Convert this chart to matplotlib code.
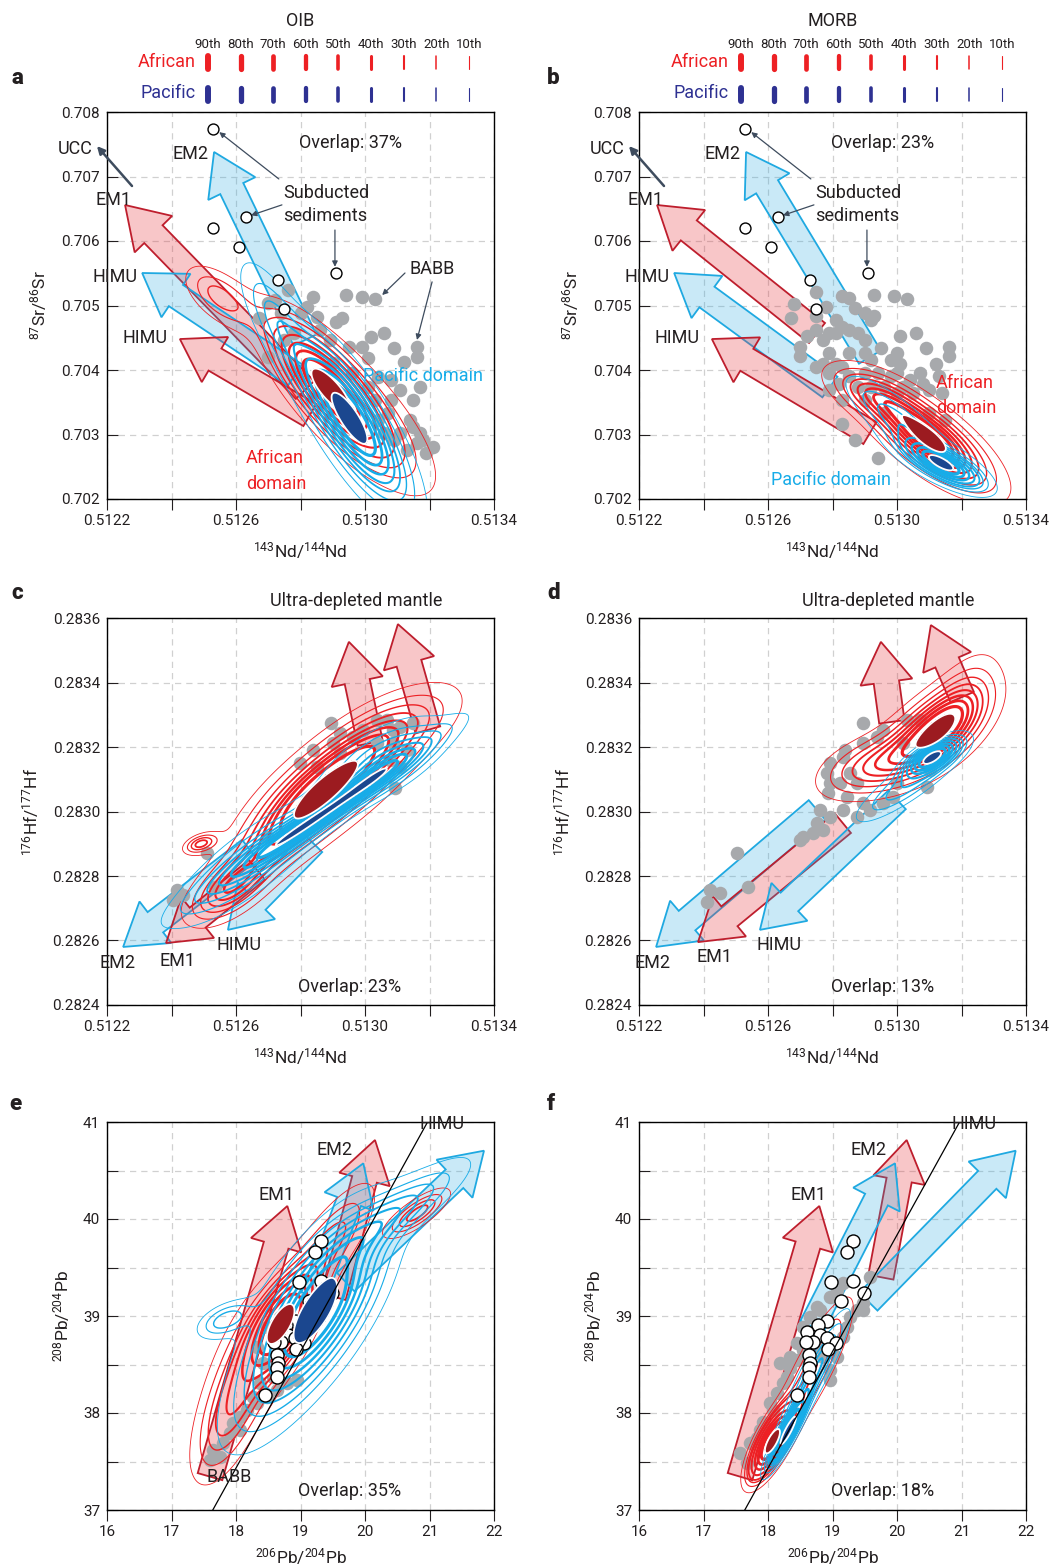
import numpy as np
import matplotlib
matplotlib.use("Agg")
import matplotlib.pyplot as plt
from matplotlib import patches
from matplotlib.lines import Line2D
from matplotlib.colors import to_rgba
from matplotlib.ticker import FormatStrFormatter

plt.rcParams["font.family"] = ["Roboto", "DejaVu Sans"]
plt.rcParams["mathtext.fontset"] = "custom"
plt.rcParams["mathtext.rm"] = "Roboto"
plt.rcParams["mathtext.it"] = "Roboto:italic"
plt.rcParams["mathtext.bf"] = "Roboto:bold"

# ---------------- data ----------------
PERCENTILES = ["90th", "80th", "70th", "60th", "50th", "40th", "30th", "20th", "10th"]
MASS = [0.1, 0.2, 0.3, 0.4, 0.5, 0.6, 0.7, 0.8, 0.9]

# subducted sediments (panels a, b)
SED_ND = [0.51253, 0.51263, 0.51253, 0.51261, 0.51273, 0.51275, 0.51291]
SED_SR = [0.70773, 0.70637, 0.70620, 0.70590, 0.70540, 0.70495, 0.70550]

# grey samples, OIB Sr-Nd (a)
OIB_ND = [0.51294, 0.51299, 0.51303, 0.51284, 0.51276, 0.51270, 0.51267, 0.51293, 0.51291, 0.51306,
          0.51302, 0.51299, 0.51309, 0.51316, 0.51316, 0.51312, 0.51301, 0.51295, 0.51270, 0.51275,
          0.51278, 0.51286, 0.51317, 0.51315, 0.51311, 0.51308, 0.51314, 0.51317, 0.51321, 0.51319,
          0.51316, 0.51313, 0.51309, 0.51304, 0.51306, 0.51311, 0.51282, 0.51280, 0.51285, 0.51272,
          0.51274, 0.51289, 0.51290, 0.51296, 0.51304, 0.51308, 0.51301, 0.51303, 0.51307, 0.51315, 0.51318]
OIB_SR = [0.70516, 0.70513, 0.70510, 0.70513, 0.70524, 0.70504, 0.70481, 0.70481, 0.70474, 0.70457,
          0.70451, 0.70436, 0.70434, 0.70436, 0.70420, 0.70412, 0.70419, 0.70436, 0.70420, 0.70447,
          0.70457, 0.70462, 0.70374, 0.70354, 0.70369, 0.70354, 0.70323, 0.70302, 0.70281, 0.70271,
          0.70287, 0.70276, 0.70292, 0.70323, 0.70302, 0.70302, 0.70498, 0.70488, 0.70482, 0.70509,
          0.70488, 0.70447, 0.70411, 0.70395, 0.70389, 0.70385, 0.70374, 0.70354, 0.70333, 0.70312, 0.70292]

# grey samples, MORB Sr-Nd (b)
MORB_ND = [0.51268, 0.51267, 0.51275, 0.51278, 0.51283, 0.51285, 0.51287, 0.51293, 0.51299, 0.51303,
           0.51292, 0.51293, 0.51272, 0.51270, 0.51275, 0.51277, 0.51279, 0.51281, 0.51283, 0.51285,
           0.51288, 0.51290, 0.51279, 0.51281, 0.51275, 0.51279, 0.51283, 0.51285, 0.51290, 0.51292,
           0.51295, 0.51298, 0.51300, 0.51301, 0.51301, 0.51306, 0.51309, 0.51312, 0.51316, 0.51316,
           0.51307, 0.51304, 0.51302, 0.51298, 0.51294, 0.51290, 0.51285, 0.51282, 0.51279, 0.51283,
           0.51288, 0.51292, 0.51296, 0.51300, 0.51305, 0.51310, 0.51308, 0.51313, 0.51314, 0.51315,
           0.51310, 0.51283, 0.51287, 0.51294, 0.51290, 0.51296, 0.51275, 0.51270, 0.51277, 0.51281,
           0.51290, 0.51300]
MORB_SR = [0.70503, 0.70480, 0.70521, 0.70498, 0.70514, 0.70511, 0.70496, 0.70516, 0.70514, 0.70510,
           0.70478, 0.70483, 0.70452, 0.70421, 0.70462, 0.70447, 0.70457, 0.70457, 0.70467, 0.70462,
           0.70457, 0.70447, 0.70426, 0.70410, 0.70405, 0.70395, 0.70405, 0.70426, 0.70426, 0.70416,
           0.70434, 0.70416, 0.70426, 0.70410, 0.70452, 0.70457, 0.70434, 0.70410, 0.70436, 0.70421,
           0.70395, 0.70385, 0.70374, 0.70390, 0.70395, 0.70395, 0.70390, 0.70379, 0.70369, 0.70354,
           0.70374, 0.70374, 0.70374, 0.70364, 0.70364, 0.70369, 0.70379, 0.70390, 0.70364, 0.70323,
           0.70333, 0.70317, 0.70292, 0.70263, 0.70354, 0.70333, 0.70483, 0.70436, 0.70410, 0.70478,
           0.70488, 0.70395]

# grey samples, Hf-Nd (c, d)
OIB_HF_ND = [0.512895, 0.513036, 0.513067, 0.512922, 0.512995, 0.513088, 0.513109, 0.51315, 0.51284,
             0.512798, 0.512902, 0.512964, 0.513036, 0.513088, 0.513093, 0.513109, 0.512695, 0.512509,
             0.512416, 0.512406, 0.512437, 0.512535, 0.51285, 0.512922, 0.513078, 0.513129]
OIB_HF = [0.283273, 0.283284, 0.283284, 0.283242, 0.283253, 0.283253, 0.283263, 0.283273, 0.283191,
          0.28315, 0.283211, 0.283232, 0.283211, 0.283211, 0.283072, 0.283139, 0.282922, 0.28287,
          0.282757, 0.282726, 0.282741, 0.282767, 0.283139, 0.28318, 0.28316, 0.283191]
MORB_HF_ND = [0.512896, 0.512937, 0.512958, 0.512839, 0.512834, 0.512792, 0.512782, 0.512792, 0.512787,
              0.512823, 0.512854, 0.512875, 0.512844, 0.512896, 0.512916, 0.512875, 0.512834, 0.512792,
              0.512761, 0.512751, 0.512772, 0.512741, 0.5127, 0.51271, 0.512503, 0.51242, 0.512451,
              0.51241, 0.512539, 0.51303, 0.513071, 0.51302, 0.513092, 0.513102, 0.512989, 0.512958,
              0.512896, 0.512999]
MORB_HF = [0.283273, 0.283232, 0.283253, 0.283191, 0.28317, 0.28315, 0.283118, 0.283087, 0.283056,
           0.283087, 0.283118, 0.283087, 0.283046, 0.283025, 0.283005, 0.282984, 0.283005, 0.282984,
           0.283005, 0.282963, 0.282943, 0.282932, 0.282912, 0.282922, 0.28287, 0.282757, 0.282746,
           0.28272, 0.282767, 0.283284, 0.283284, 0.283211, 0.283077, 0.283129, 0.283046, 0.283025,
           0.283211, 0.283087]

# Pb isotopes (e, f)
BABB_206 = [19.313, 19.230, 18.982, 19.313, 19.494, 19.132, 18.910, 18.780, 18.610, 18.806,
            18.910, 18.703, 18.584, 19.054, 18.925, 18.636, 18.651, 18.636, 18.636, 18.455]
BABB_208 = [39.777, 39.663, 39.354, 39.364, 39.241, 39.158, 38.952, 38.907, 38.838, 38.804,
            38.770, 38.729, 38.735, 38.718, 38.663, 38.598, 38.519, 38.460, 38.375, 38.186]
OIB_206 = [17.597, 17.649, 17.804, 17.752, 17.907, 17.959, 18.062, 18.165, 18.320, 18.475,
           18.630, 18.786, 18.941, 18.372, 18.579, 18.424, 18.475, 18.320, 18.682, 18.269, 18.062]
OIB_208 = [37.515, 37.619, 37.687, 37.550, 37.790, 37.893, 37.962, 38.031, 38.100, 38.168,
           38.237, 38.306, 38.340, 38.306, 38.375, 38.512, 38.890, 38.684, 38.993, 38.168, 37.825]
MORB_206 = [17.669, 17.566, 17.824, 17.928, 18.083, 18.134, 18.289, 18.341, 18.444, 18.548,
            18.755, 18.858, 18.961, 18.961, 19.065, 19.168, 19.220, 19.271, 19.375, 19.478,
            19.478, 19.581, 19.168, 19.065, 18.961, 18.806, 18.548, 18.651, 18.341, 18.186,
            17.721, 17.876, 18.031, 18.238, 18.444, 18.755]
MORB_208 = [37.481, 37.584, 37.739, 37.911, 38.031, 38.203, 38.375, 38.460, 38.546, 38.649,
            38.684, 38.581, 38.443, 38.340, 38.581, 38.787, 38.890, 38.993, 39.062, 39.131,
            39.062, 39.405, 39.337, 39.268, 39.199, 39.062, 38.890, 38.993, 38.581, 38.512,
            37.687, 37.825, 38.100, 38.306, 38.718, 39.096]
HIMU_LINE_206 = [17.64, 20.97]
HIMU_LINE_208 = [37.0, 41.0]

# density components: (x, y, major sd, minor sd [axes fraction], angle deg, weight)
A_AFR = [(0.51288, 0.70374, 0.13, 0.045, -50, 0.62), (0.51255, 0.70513, 0.07, 0.035, -40, 0.08),
         (0.51300, 0.70330, 0.17, 0.060, -48, 0.30)]
A_PAC = [(0.51295, 0.70327, 0.15, 0.045, -57, 0.70), (0.51272, 0.70480, 0.11, 0.035, -62, 0.12),
         (0.51298, 0.70300, 0.18, 0.060, -62, 0.18)]
B_AFR = [(0.51310, 0.70294, 0.12, 0.045, -37, 0.72), (0.51292, 0.70364, 0.08, 0.035, -25, 0.18),
         (0.51312, 0.70280, 0.14, 0.05, -35, 0.10)]
B_PAC = [(0.51314, 0.70255, 0.06, 0.020, -28, 0.55), (0.51300, 0.70322, 0.10, 0.030, -40, 0.30),
         (0.51312, 0.70260, 0.12, 0.040, -25, 0.15)]
C_AFR = [(0.51289, 0.28308, 0.15, 0.060, 35, 0.52), (0.51257, 0.28275, 0.08, 0.040, 35, 0.10),
         (0.51309, 0.28326, 0.13, 0.055, 28, 0.18), (0.51272, 0.28290, 0.13, 0.050, 40, 0.18),
         (0.51249, 0.28290, 0.03, 0.015, 20, 0.015)]
C_PAC = [(0.51288, 0.28300, 0.20, 0.022, 34, 0.45), (0.51264, 0.28284, 0.15, 0.045, 38, 0.30),
         (0.51306, 0.28316, 0.10, 0.045, 30, 0.25)]
D_AFR = [(0.51312, 0.28325, 0.10, 0.050, 38, 0.62), (0.51292, 0.28314, 0.09, 0.045, 20, 0.26),
         (0.51321, 0.28336, 0.09, 0.045, 60, 0.12)]
D_PAC = [(0.51311, 0.28317, 0.045, 0.018, 30, 0.55), (0.51304, 0.28309, 0.10, 0.025, 35, 0.45)]
E_AFR = [(18.72, 38.93, 0.08, 0.035, 60, 0.35), (18.45, 38.75, 0.13, 0.060, 62, 0.25),
         (19.45, 39.75, 0.12, 0.040, 55, 0.15), (20.81, 40.06, 0.06, 0.020, 35, 0.05),
         (17.90, 38.00, 0.12, 0.045, 68, 0.20)]
E_PAC = [(19.27, 39.09, 0.17, 0.070, 57, 0.75), (20.55, 40.10, 0.14, 0.035, 35, 0.12),
         (17.83, 38.96, 0.05, 0.025, 25, 0.03), (18.50, 38.20, 0.15, 0.060, 55, 0.10)]
F_AFR = [(18.06, 37.70, 0.06, 0.020, 62, 0.60), (18.70, 38.45, 0.13, 0.030, 63, 0.40)]
F_PAC = [(18.30, 37.80, 0.06, 0.012, 62, 0.50), (18.75, 38.45, 0.10, 0.020, 62, 0.50)]

# end-member arrows: (x start, y start, x tip, y tip, colour)
A_ARROWS = [(0.512814, 0.704465, 0.512532, 0.70738, "b"), (0.512814, 0.70369, 0.512256, 0.706558, "r"),
            (0.512783, 0.703922, 0.512309, 0.705504, "b"), (0.512829, 0.703302, 0.512426, 0.70448, "r")]
B_ARROWS = [(0.512916, 0.7042, 0.512532, 0.70738, "b"), (0.512752, 0.704574, 0.512256, 0.706558, "r"),
            (0.512792, 0.703736, 0.512309, 0.705504, "b"), (0.512916, 0.703023, 0.512426, 0.70448, "r")]
C_ARROWS = [(0.513016, 0.283212, 0.51295, 0.283526, "r"), (0.513195, 0.283253, 0.513102, 0.283581, "r"),
            (0.512643, 0.282881, 0.51225, 0.28258, "b"), (0.512665, 0.282819, 0.512383, 0.282592, "r"),
            (0.512839, 0.282902, 0.512575, 0.282633, "b")]
D_ARROWS = [(0.512984, 0.283278, 0.51295, 0.283526, "r"), (0.513202, 0.283355, 0.513105, 0.283578, "r"),
            (0.512752, 0.283005, 0.512253, 0.28258, "b"), (0.512832, 0.282964, 0.512383, 0.282595, "r"),
            (0.513, 0.283036, 0.512575, 0.282633, "b")]
E_ARROWS = [(17.597, 37.344, 18.796, 40.134, "r"), (19.509, 39.199, 20.155, 40.814, "r"),
            (19.199, 39.199, 19.974, 40.574, "b"), (19.70, 39.35, 21.845, 40.704, "b")]
F_ARROWS = [(17.566, 37.344, 18.796, 40.134, "r"), (19.75, 39.40, 20.15, 40.814, "r"),
            (18.677, 38.89, 19.969, 40.574, "b"), (19.556, 39.148, 21.84, 40.704, "b")]

# ---------------- style ----------------
AFR_LINE = "#ED2024"
PAC_LINE = "#17ACE8"
AFR_FILL = "#9C1B20"
PAC_FILL = "#1B478F"
PAC_LEGEND = "#2E3192"
GREY = "#A7A9AC"
INK = "#231F20"
NOTE = "#3E4C5E"
BAR_LW = [4.3, 3.8, 3.4, 3.1, 2.6, 2.2, 1.5, 1.1, 0.8]
CONTOUR_LW = [2.3, 2.0, 1.8, 1.5, 1.3, 1.0, 0.8, 0.6]   # mass 0.2 ... 0.9
FS = 13

W, H = 1051, 1568
fig = plt.figure(figsize=(W / 100, H / 100), dpi=100)


def add_axes(left, top, w=387, h=387):
    return fig.add_axes([left / W, 1 - (top + h) / H, w / W, h / H])


def setup(ax, xlim, ylim, xmaj, xmin, ymaj, ymin, xfmt, yfmt):
    ax.set_xlim(*xlim)
    ax.set_ylim(*ylim)
    ax.set_xticks(xmaj)
    ax.set_xticks(xmin, minor=True)
    ax.set_yticks(ymaj)
    ax.set_yticks(ymin, minor=True)
    ax.xaxis.set_major_formatter(FormatStrFormatter(xfmt))
    ax.yaxis.set_major_formatter(FormatStrFormatter(yfmt))
    ax.grid(True, which="both", color="#d0d0d0", lw=0.9, ls=(0, (5, 4)))
    ax.set_axisbelow(True)
    ax.tick_params(axis="x", which="both", direction="out", length=8, width=0.8,
                   labelsize=11, pad=3, colors=INK)
    ax.tick_params(axis="y", which="both", direction="in", length=8, width=0.8,
                   labelsize=11, pad=5, colors=INK)
    for s in ax.spines.values():
        s.set_linewidth(1.0)


def density(ax, comps):
    x0, x1 = ax.get_xlim()
    y0, y1 = ax.get_ylim()
    g = np.linspace(-0.25, 1.25, 420)
    U, V = np.meshgrid(g, g)
    Z = np.zeros_like(U)
    for cx, cy, a, b, th, w in comps:
        cu, cv = (cx - x0) / (x1 - x0), (cy - y0) / (y1 - y0)
        t = np.radians(th)
        du, dv = U - cu, V - cv
        p = du * np.cos(t) + dv * np.sin(t)
        q = -du * np.sin(t) + dv * np.cos(t)
        Z += w * np.exp(-0.5 * (p ** 2 / a ** 2 + q ** 2 / b ** 2)) / (2 * np.pi * a * b)
    zs = np.sort(Z.ravel())[::-1]
    cum = np.cumsum(zs)
    cum /= cum[-1]
    levels = [zs[np.searchsorted(cum, m)] for m in MASS]
    return x0 + U * (x1 - x0), y0 + V * (y1 - y0), Z, levels


def contours(ax, afr, pac):
    fills = []
    for comps, lc, fc in [(afr, AFR_LINE, AFR_FILL), (pac, PAC_LINE, PAC_FILL)]:
        X, Y, Z, lev = density(ax, comps)
        ax.contour(X, Y, Z, levels=lev[1:][::-1], colors=lc,
                   linewidths=CONTOUR_LW[::-1], zorder=3)
        fills.append((X, Y, Z, lev[0], fc))
    for X, Y, Z, l0, fc in fills:
        ax.contourf(X, Y, Z, levels=[l0, Z.max() * 2], colors=[fc], zorder=5)
        ax.contour(X, Y, Z, levels=[l0], colors="white", linewidths=1.3, zorder=5)


def fat_arrows(ax, arrows):
    x0, x1 = ax.get_xlim()
    y0, y1 = ax.get_ylim()
    for xs, ys, xe, ye, kind in arrows:
        us, vs = (xs - x0) / (x1 - x0), (ys - y0) / (y1 - y0)
        ue, ve = (xe - x0) / (x1 - x0), (ye - y0) / (y1 - y0)
        if kind == "r":
            fc, ec = to_rgba("#E6333C", 0.28), "#BE1E2D"
        else:
            fc, ec = to_rgba("#29ABE2", 0.25), "#1FA9E1"
        ax.add_patch(patches.FancyArrow(us, vs, ue - us, ve - vs, width=0.066, head_width=0.135,
                                        head_length=0.105, length_includes_head=True,
                                        transform=ax.transAxes, fc=fc, ec=ec, lw=1.3,
                                        joinstyle="miter", zorder=1))


def note(ax, u, v, s, color=INK, ha="center", **kw):
    ax.text(u, v, s, transform=ax.transAxes, ha=ha, va="center", fontsize=FS,
            color=color, zorder=9, clip_on=False, **kw)


def pointer(ax, start, end, lw=0.9, ms=8):
    ax.annotate("", xy=end, xytext=start, xycoords="axes fraction", textcoords="axes fraction",
                arrowprops=dict(arrowstyle="-|>", color=NOTE, lw=lw, mutation_scale=ms,
                                shrinkA=0, shrinkB=0),
                annotation_clip=False, zorder=8)


ax_a = add_axes(107, 112)
ax_b = add_axes(639, 112)
ax_c = add_axes(107, 618)
ax_d = add_axes(639, 618)
ax_e = add_axes(107, 1122, 387, 388)
ax_f = add_axes(639, 1122, 387, 388)

nd_major = [0.5122, 0.5126, 0.5130, 0.5134]
nd_minor = [0.5124, 0.5128, 0.5132]
for ax in (ax_a, ax_b):
    setup(ax, (0.5122, 0.5134), (0.702, 0.708), nd_major, nd_minor,
          np.arange(0.702, 0.70801, 0.001), [], "%.4f", "%.3f")
    ax.set_xlabel(r"$^{143}$Nd/$^{144}$Nd", fontsize=12.5, color=INK)
    ax.set_ylabel(r"$^{87}$Sr/$^{86}$Sr", fontsize=12.5, color=INK)
    ax.xaxis.set_label_coords(0.5, -0.106)
    ax.yaxis.set_label_coords(-0.150, 0.5)
for ax in (ax_c, ax_d):
    setup(ax, (0.5122, 0.5134), (0.2824, 0.2836), nd_major, nd_minor,
          np.arange(0.2824, 0.28361, 0.0002), [], "%.4f", "%.4f")
    ax.set_xlabel(r"$^{143}$Nd/$^{144}$Nd", fontsize=12.5, color=INK)
    ax.set_ylabel(r"$^{176}$Hf/$^{177}$Hf", fontsize=12.5, color=INK)
    ax.xaxis.set_label_coords(0.5, -0.106)
    ax.yaxis.set_label_coords(-0.170, 0.5)
for ax in (ax_e, ax_f):
    setup(ax, (16, 22), (37, 41), np.arange(16, 23, 1), [],
          np.arange(37, 42, 1), np.arange(37.5, 41, 1), "%d", "%d")
    ax.set_xlabel(r"$^{206}$Pb/$^{204}$Pb", fontsize=12.5, color=INK)
    ax.set_ylabel(r"$^{208}$Pb/$^{204}$Pb", fontsize=12.5, color=INK)
    ax.xaxis.set_label_coords(0.5, -0.094)
    ax.yaxis.set_label_coords(-0.090, 0.5)

# ---- a, b: Sr-Nd ----
for ax, arrows, nd, sr, afr, pac in [(ax_a, A_ARROWS, OIB_ND, OIB_SR, A_AFR, A_PAC),
                                     (ax_b, B_ARROWS, MORB_ND, MORB_SR, B_AFR, B_PAC)]:
    fat_arrows(ax, arrows)
    ax.scatter(nd, sr, s=95, color=GREY, lw=0, zorder=2)
    contours(ax, afr, pac)
    ax.scatter(SED_ND, SED_SR, s=62, facecolor="white", edgecolor="black", lw=1.0, zorder=6)
    note(ax, 0.217, 0.891, "EM2")
    note(ax, -0.083, 0.904, "UCC")
    note(ax, 0.016, 0.773, "EM1")
    note(ax, 0.021, 0.574, "HIMU")
    note(ax, 0.098, 0.416, "HIMU")
    note(ax, 0.455, 0.761, "Subducted\nsediments", ha="left", linespacing=1.3)
    pointer(ax, (0.0646, 0.8088), (-0.026, 0.912), lw=1.8, ms=11)
    pointer(ax, (0.444, 0.827), (0.290, 0.948))
    pointer(ax, (0.452, 0.760), (0.372, 0.733))
    pointer(ax, (0.589, 0.695), (0.589, 0.600))

note(ax_a, 0.628, 0.920, "Overlap: 37%")
note(ax_a, 0.840, 0.594, "BABB")
pointer(ax_a, (0.770, 0.584), (0.711, 0.527))
pointer(ax_a, (0.840, 0.561), (0.801, 0.411))
note(ax_a, 0.661, 0.318, "Pacific domain", color=PAC_LINE, ha="left")
note(ax_a, 0.359, 0.072, "African\ndomain", color=AFR_LINE, ha="left", linespacing=1.6)
note(ax_b, 0.630, 0.920, "Overlap: 23%")
note(ax_b, 0.767, 0.267, "African\ndomain", color=AFR_LINE, ha="left", linespacing=1.5)
note(ax_b, 0.341, 0.049, "Pacific domain", color=PAC_LINE, ha="left")

# ---- c, d: Hf-Nd ----
for ax, arrows, nd, hf, afr, pac in [(ax_c, C_ARROWS, OIB_HF_ND, OIB_HF, C_AFR, C_PAC),
                                     (ax_d, D_ARROWS, MORB_HF_ND, MORB_HF, D_AFR, D_PAC)]:
    fat_arrows(ax, arrows)
    ax.scatter(nd, hf, s=95, color=GREY, lw=0, zorder=2)
    contours(ax, afr, pac)
    note(ax, 0.645, 1.044, "Ultra-depleted mantle")
note(ax_c, 0.028, 0.109, "EM2")
note(ax_c, 0.183, 0.114, "EM1")
note(ax_c, 0.341, 0.155, "HIMU")
note(ax_c, 0.628, 0.047, "Overlap: 23%")
note(ax_d, 0.036, 0.109, "EM2")
note(ax_d, 0.194, 0.124, "EM1")
note(ax_d, 0.362, 0.155, "HIMU")
note(ax_d, 0.630, 0.047, "Overlap: 13%")

# ---- e, f: Pb-Pb ----
for ax, arrows, x206, y208, afr, pac in [(ax_e, E_ARROWS, OIB_206, OIB_208, E_AFR, E_PAC),
                                         (ax_f, F_ARROWS, MORB_206, MORB_208, F_AFR, F_PAC)]:
    fat_arrows(ax, arrows)
    ax.scatter(x206, y208, s=95, color=GREY, lw=0, zorder=2)
    contours(ax, afr, pac)
    ax.scatter(BABB_206, BABB_208, s=88, facecolor="white", edgecolor="black", lw=1.0, zorder=4)
    ax.plot(HIMU_LINE_206, HIMU_LINE_208, color="black", lw=0.9, zorder=7)
    note(ax, 0.866, 0.995, "HIMU")
    note(ax, 0.439, 0.812, "EM1")
note(ax_e, 0.589, 0.928, "EM2")
note(ax_e, 0.315, 0.085, "BABB")
note(ax_e, 0.628, 0.049, "Overlap: 35%")
note(ax_f, 0.594, 0.928, "EM2")
note(ax_f, 0.630, 0.049, "Overlap: 18%")

# ---- panel letters & percentile legend ----
for letter, x, y in [("a", 11, 78), ("b", 547, 78), ("c", 11, 593), ("d", 547, 593),
                     ("e", 9, 1104), ("f", 547, 1104)]:
    fig.text(x / W, 1 - y / H, letter, fontsize=16, fontweight="heavy", va="center", color=INK)

for title, x0 in [("OIB", 0), ("MORB", 533)]:
    fig.text((300 + x0) / W, 1 - 21 / H, title, ha="center", va="center", fontsize=13, color=INK)
    fig.text((196 + x0) / W, 1 - 62 / H, "African", ha="right", va="center", fontsize=13, color=AFR_LINE)
    fig.text((196 + x0) / W, 1 - 93 / H, "Pacific", ha="right", va="center", fontsize=13, color=PAC_LEGEND)
    for i, lab in enumerate(PERCENTILES):
        bx = (208 + x0 + 32.6 * i) / W
        fig.text(bx, 1 - 44 / H, lab, ha="center", va="center", fontsize=9.5, color=INK)
        fig.add_artist(Line2D([bx, bx], [1 - 56 / H, 1 - 69 / H], lw=BAR_LW[i], color=AFR_LINE,
                              solid_capstyle="round", transform=fig.transFigure))
        fig.add_artist(Line2D([bx, bx], [1 - 88 / H, 1 - 101 / H], lw=BAR_LW[i], color=PAC_LEGEND,
                              solid_capstyle="round", transform=fig.transFigure))

fig.savefig("out.png", dpi=100)
